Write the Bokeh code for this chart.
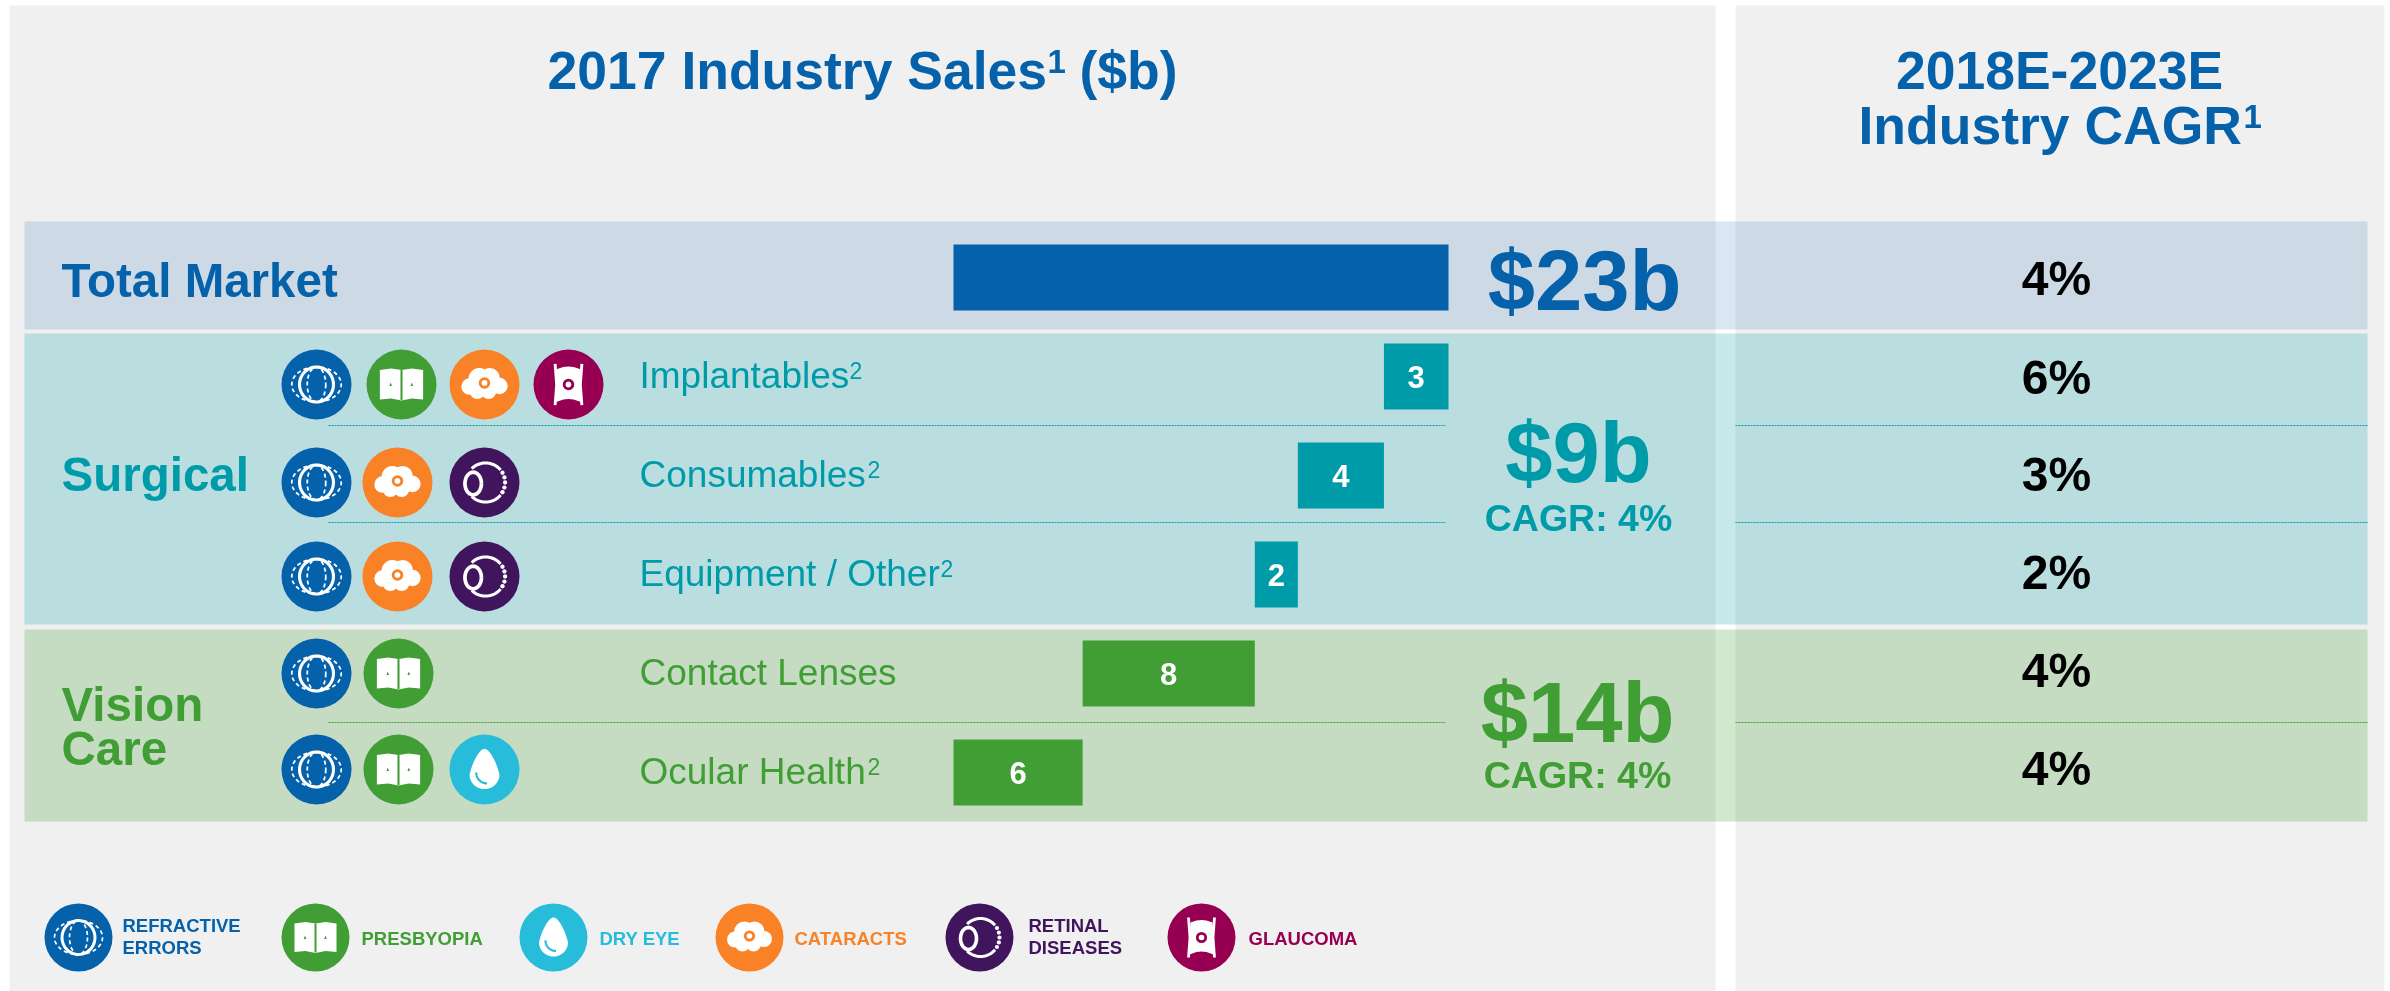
import numpy as np
from bokeh.core.properties import value
from bokeh.embed import file_html
from bokeh.models import Range1d
from bokeh.plotting import figure
from bokeh.resources import INLINE

# ---- data -------------------------------------------------------------
segments = ["Implantables", "Consumables", "Equipment / Other", "Contact Lenses", "Ocular Health"]
footnote = ["2", "2", "2", "", "2"]
sales = [3, 4, 2, 8, 6]
seg_cagr = ["6%", "3%", "2%", "4%", "4%"]
total_sales = 23
total_cagr = "4%"
seg_icons = [
    ["refractive", "presbyopia", "cataracts", "glaucoma"],
    ["refractive", "cataracts", "retinal"],
    ["refractive", "cataracts", "retinal"],
    ["refractive", "presbyopia"],
    ["refractive", "presbyopia", "dryeye"],
]
legend_keys = ["refractive", "presbyopia", "dryeye", "cataracts", "retinal", "glaucoma"]
legend_labels = [["REFRACTIVE", "ERRORS"], ["PRESBYOPIA"], ["DRY EYE"], ["CATARACTS"], ["RETINAL", "DISEASES"], ["GLAUCOMA"]]

# ---- styles / layout ---------------------------------------------------
BLUE, TEAL, GREEN = "#0561aa", "#009ba8", "#409e35"
ICON = dict(refractive=BLUE, presbyopia=GREEN, dryeye="#27bcd9", cataracts="#f98227",
            retinal="#41155e", glaucoma="#970052")
FONT = value("Liberation Sans")
W, H = 2390, 991
row_y = [376, 475, 574, 673, 772]
seg_color = [TEAL, TEAL, TEAL, GREEN, GREEN]
BASE = 0.365  # the alphabetic baseline is drawn this many em under the anchor

p = figure(width=W, height=H, x_range=Range1d(0, W), y_range=Range1d(H, 0),
           output_backend="svg", toolbar_location=None, min_border=0,
           outline_line_color=None, background_fill_color="white", border_fill_color="white")
p.axis.visible = False
p.grid.visible = False
p.styles = {"position": "fixed", "left": "0px", "top": "0px"}

K = 495 / total_sales  # px per $b
X0 = 953
p.extra_x_ranges["sales"] = Range1d(-X0 / K, (W - X0) / K)


def txt(x, y, s, size, color, bold=True, align="left", **kw):
    p.text([x], [y - BASE * size], text=[s], text_font=FONT, text_font_size=f"{size}px",
           text_font_style="bold" if bold else "normal", text_color=color,
           text_align=align, text_baseline="alphabetic", **kw)


def rect(x0, x1, y0, y1, color, alpha=1.0):
    p.quad(left=[x0], right=[x1], top=[y0], bottom=[y1], fill_color=color,
           fill_alpha=alpha, line_color=None)


# panels and bands
rect(9, 1715, 5, H, "#f0f0f0")
rect(1735, 2384, 5, H, "#f0f0f0")
rect(24, 2367, 221, 329, BLUE, 0.15)
rect(24, 2367, 333, 624, TEAL, 0.225)
rect(24, 2367, 629, 821, GREEN, 0.24)

# dashed separators
for y, c in [(425, TEAL), (522, TEAL), (722, GREEN)]:
    for a, b in [(328, 1445), (1735, 2367)]:
        p.line([a, b], [y, y], line_color=c, line_width=1, line_dash="2 1")

# bars, stacked from the right value
stack = np.cumsum(sales[::-1])[::-1]
rights = [float(v) for v in stack]
lefts = [float(v - s) for v, s in zip(stack, sales)]
p.hbar(y=row_y, left=lefts, right=rights, height=66, fill_color=seg_color, line_color=None,
       x_range_name="sales")
p.hbar(y=[277], left=[0], right=[total_sales], height=66, fill_color=BLUE, line_color=None,
       x_range_name="sales")
p.text(x=[(a + b) / 2 for a, b in zip(lefts, rights)], y=[y + 11.5 - BASE * 31 for y in row_y],
       text=[str(s) for s in sales], text_font=FONT, text_font_size="31px", text_font_style="bold",
       text_color="white", text_align="center", text_baseline="alphabetic", x_range_name="sales")


# ---- icons --------------------------------------------------------------
def poly(xs, ys, cx, cy, s, color):
    p.patch([cx + s * a for a in xs], [cy + s * b for b in ys], fill_color=color, line_color=None)


def arc(cx, cy, r, a0, a1, lw, color="white", dash=None, rx=None):
    t = np.radians(np.linspace(a0, a1, 40))
    kw = {"line_dash": dash} if dash else {}
    p.line(cx + (rx or r) * np.cos(t), cy + r * np.sin(t), line_color=color, line_width=lw, **kw)


def icon(kind, cx, cy, r):
    s = r / 34
    c = ICON[kind]
    p.circle([cx], [cy], radius=r, fill_color=c, line_color=None)
    if kind == "refractive":
        arc(cx, cy, 17 * s, 0, 360, 3 * s, rx=16.5 * s)
        arc(cx, cy, 17 * s, 0, 360, 1.7 * s, dash="4 3", rx=9 * s)
        arc(cx, cy, 17 * s, -80, 80, 1.7 * s, dash="4 3", rx=24 * s)
        arc(cx, cy, 17 * s, 100, 260, 1.7 * s, dash="4 3", rx=24 * s)
    elif kind == "presbyopia":
        xs = [-21, -10, 0, 10, 21, 21, 10, 0, -10, -21]
        ys = [-14, -15.5, -14, -15.5, -14, 14.5, 13.5, 15.5, 13.5, 14.5]
        poly(xs, ys, cx, cy, s, "white")
        p.line([cx, cx], [cy - 14 * s, cy + 15 * s], line_color=c, line_width=2 * s)
        for dx in (-10.5, 10):
            poly([dx - 1.3, dx, dx + 1.3], [1.5, -2, 1.5], cx, cy, s, c)
    elif kind == "dryeye":
        t = np.radians(np.linspace(0, 360, 72))
        xs = 14.5 * np.sin(t) * np.where(np.cos(t) > 0, 1 - 0.35 * np.cos(t), 1)
        ys = np.where(np.cos(t) > 0, -25 * np.cos(t) + 5, -14 * np.cos(t) + 5)
        poly(list(xs), list(ys), cx, cy, s, "white")
        arc(cx + 2.5 * s, cy + 3 * s, 10.5 * s, 90, 180, 2.2 * s, color=c)
    elif kind == "cataracts":
        lobes = [(-14.5, 2, 8), (-5, -5.5, 10.5), (5, -6, 10), (14.5, 1.5, 8),
                 (-7, 6.5, 7.5), (4, 6.5, 7.5), (-1, 0, 10)]
        p.circle([cx + s * a for a, _, _ in lobes], [cy + s * b for _, b, _ in lobes],
                 radius=[s * e for _, _, e in lobes], fill_color="white", line_color=None)
        p.circle([cx], [cy - 1.5 * s], radius=4.2 * s, fill_color="white", line_color=c, line_width=2.8 * s)
    elif kind == "retinal":
        arc(cx + 1 * s, cy, 19 * s, -135, -40, 3 * s)
        arc(cx + 1 * s, cy, 19 * s, 40, 135, 3 * s)
        arc(cx - 11 * s, cy + 1 * s, 11 * s, 0, 360, 3.6 * s, rx=8 * s)
        t = np.radians([-30, -15, 0, 15, 30])
        p.circle(cx + s * (1 + 19 * np.cos(t)), cy + s * 19 * np.sin(t), radius=2.1 * s,
                 fill_color="white", line_color=None)
    elif kind == "glaucoma":
        xs = [-11, -5, 0, 5, 11, 12, 12, 5, 0, -5, -12, -12]
        ys = [-15, -17, -17.5, -17, -15, 0, 17, 14.5, 14, 14.5, 17, 0]
        poly(xs, ys, cx, cy, s, "white")
        p.line([cx - 13 * s, cx - 11.5 * s, cx - 13 * s], [cy - 20 * s, cy, cy + 20 * s],
               line_color="white", line_width=2.8 * s)
        p.line([cx + 13 * s, cx + 11.5 * s, cx + 13 * s], [cy - 20 * s, cy, cy + 20 * s],
               line_color="white", line_width=2.8 * s)
        p.circle([cx], [cy], radius=4.2 * s, fill_color="white", line_color=c, line_width=2.8 * s)


icon_xs = [
    [316, 401, 484, 568],
    [316, 397, 484],
    [316, 397, 484],
    [316, 398],
    [316, 398, 484],
]
icon_ys = [384, 482, 576, 673, 769]
for keys, xs, y in zip(seg_icons, icon_xs, icon_ys):
    for k, x in zip(keys, xs):
        icon(k, x, y, 35)

# ---- texts ---------------------------------------------------------------
txt(547, 90, "2017 Industry Sales", 53.5, BLUE)
txt(1047, 73, "1", 33, BLUE)
txt(1079, 90, "($b)", 53.5, BLUE)
txt(2059, 90, "2018E-2023E", 53.5, BLUE, align="center")
txt(1858, 145, "Industry CAGR", 53.5, BLUE)
txt(2243, 128, "1", 33, BLUE)
txt(61, 297, "Total Market", 47.5, BLUE)
txt(61, 491, "Surgical", 47.5, TEAL)
txt(61, 721, "Vision", 47.5, GREEN)
txt(61, 765, "Care", 47.5, GREEN)
sup_x = [849, 867, 940, 0, 867]
for s, y, c, f, sx in zip(segments, [389, 488, 587, 686, 785], seg_color, footnote, sup_x):
    txt(639, y, s, 37, c, bold=False)
    if f:
        txt(sx, y - 11, f, 23, c, bold=False)
txt(1584, 311, f"${total_sales}b", 85, BLUE, align="center")
txt(1578, 483, f"${sum(sales[:3])}b", 85, TEAL, align="center")
txt(1578, 531, "CAGR: 4%", 37.5, TEAL, align="center")
txt(1577, 743, f"${sum(sales[3:])}b", 85, GREEN, align="center")
txt(1577, 788, "CAGR: 4%", 37.5, GREEN, align="center")
txt(2056, 296, total_cagr, 48, "black", align="center")
for s, y in zip(seg_cagr, [395, 492, 590, 688, 786]):
    txt(2056, y, s, 48, "black", align="center")

# ---- legend ---------------------------------------------------------------
leg_x = [78, 315, 553, 749, 979, 1201]
leg_tx = [122, 361, 599, 794, 1028, 1248]
for k, x, tx, lines in zip(legend_keys, leg_x, leg_tx, legend_labels):
    icon(k, x, 937, 34)
    ys = [932, 954] if len(lines) == 2 else [945]
    for s, y in zip(lines, ys):
        txt(tx, y, s, 18.5, ICON[k])

open("out.html", "w").write(file_html(p, INLINE))
